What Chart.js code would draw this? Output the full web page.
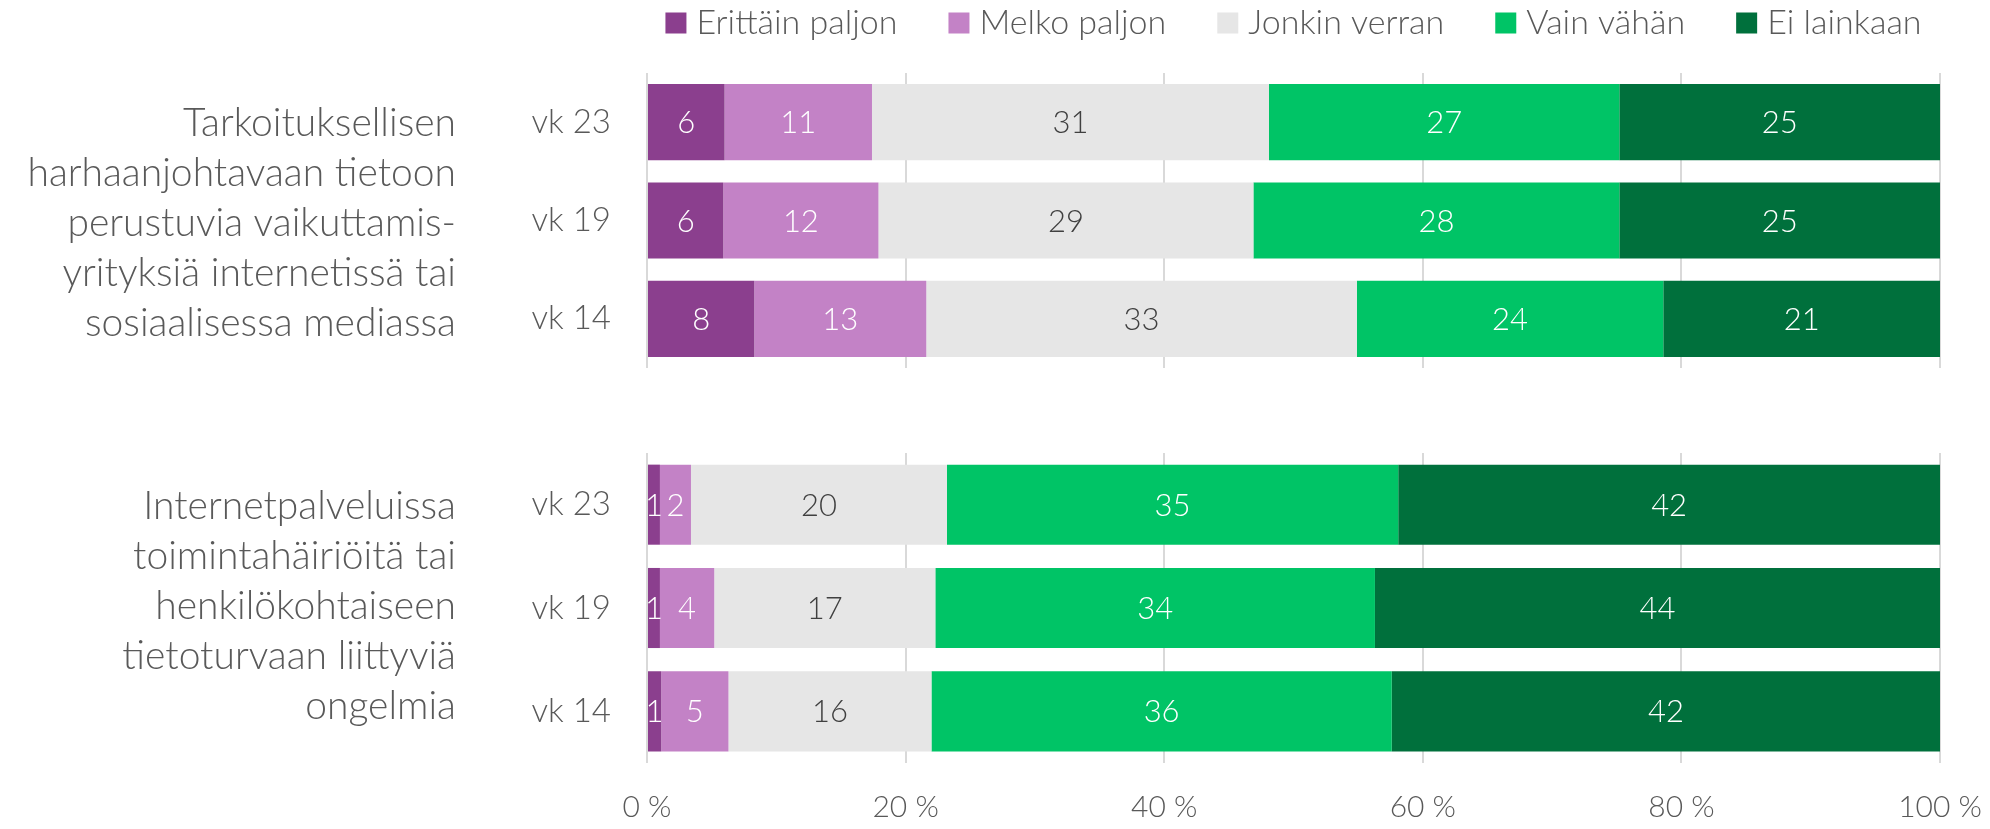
<!DOCTYPE html>
<html lang="fi">
<head>
<meta charset="utf-8">
<title>Huolestuneisuus</title>
<script src="https://cdn.jsdelivr.net/npm/chart.js@4.4.1/dist/chart.umd.min.js"></script>
<style>
  html, body { margin: 0; padding: 0; background: #fff; }
  #wrap { position: relative; width: 1990px; height: 829px; overflow: hidden; }
  canvas { position: absolute; left: 0; }
  #top { top: 0; }
  #bottom { top: 400px; }
</style>
</head>
<body>
<div id="wrap">
  <canvas id="top" width="1990" height="400"></canvas>
  <canvas id="bottom" width="1990" height="429"></canvas>
</div>
<script>
// kategoriat ja sarjat
const weeks = ['vk 23', 'vk 19', 'vk 14'];
const seriesNames = ['Erittäin paljon', 'Melko paljon', 'Jonkin verran', 'Vain vähän', 'Ei lainkaan'];
const seriesColors = ['#8b3f8e', '#c382c6', '#e6e6e6', '#00c466', '#00703c'];

const topLines = ['Tarkoituksellisen', 'harhaanjohtavaan tietoon', 'perustuvia vaikuttamis-',
                  'yrityksiä internetissä tai', 'sosiaalisessa mediassa'];
const bottomLines = ['Internetpalveluissa', 'toimintahäiriöitä tai', 'henkilökohtaiseen',
                     'tietoturvaan liittyviä', 'ongelmia'];

// harhaanjohtava tieto (%), järjestys vk 23, vk 19, vk 14
const harhaErittain = [6.0, 5.9, 8.3];
const harhaMelko    = [11.4, 12.0, 13.3];
const harhaJonkin   = [30.7, 29.0, 33.3];
const harhaVain     = [27.1, 28.3, 23.7];
const harhaEi       = [24.8, 24.8, 21.4];

// toimintahäiriöt / tietoturva (%)
const hairioErittain = [1.0, 1.0, 1.1];
const hairioMelko    = [2.4, 4.2, 5.2];
const hairioJonkin   = [19.8, 17.1, 15.7];
const hairioVain     = [34.9, 34.0, 35.6];
const hairioEi       = [41.9, 43.7, 42.4];

const xTicks = [0, 20, 40, 60, 80, 100];

const FONT = 'Lato';
const TEXT = '#595959';

// arvot palkkien keskelle
const barValues = {
  id: 'barValues',
  afterDatasetsDraw(chart) {
    const ctx = chart.ctx;
    ctx.save();
    ctx.font = `300 31px ${FONT}`;
    ctx.textAlign = 'center';
    ctx.textBaseline = 'middle';
    chart.data.datasets.forEach((ds, i) => {
      const meta = chart.getDatasetMeta(i);
      ctx.fillStyle = i === 2 ? '#404040' : '#ffffff';
      meta.data.forEach((bar, j) => {
        const p = bar.getCenterPoint();
        ctx.fillText(String(Math.round(ds.data[j])), p.x, p.y + 1);
      });
    });
    ctx.restore();
  }
};

// ryhmän otsikko vasemmalle
const groupLabel = {
  id: 'groupLabel',
  afterDraw(chart, args, o) {
    const ctx = chart.ctx;
    const cy = chart.scales.y.getPixelForValue(1) + (o.shift || 0);
    ctx.save();
    ctx.font = `300 39px ${FONT}`;
    ctx.fillStyle = TEXT;
    ctx.textAlign = 'right';
    ctx.textBaseline = 'middle';
    o.lines.forEach((t, i) => {
      ctx.fillText(t, o.x, cy + (i - (o.lines.length - 1) / 2) * o.lineHeight);
    });
    ctx.restore();
  }
};

// selite yhdelle riville
const rowLegend = {
  id: 'rowLegend',
  afterDraw(chart, args, o) {
    if (!o.show) return;
    const ctx = chart.ctx;
    ctx.save();
    ctx.font = `300 34px ${FONT}`;
    const items = chart.data.datasets.map(ds => ({
      text: ds.label, color: ds.backgroundColor, w: ctx.measureText(ds.label).width
    }));
    const total = items.reduce((s, it) => s + o.box + o.gap + it.w, 0) + o.spacing * (items.length - 1);
    let x = (chart.chartArea.left + chart.chartArea.right) / 2 - total / 2;
    ctx.textBaseline = 'middle';
    items.forEach(it => {
      ctx.fillStyle = it.color;
      ctx.fillRect(x, o.y - o.box / 2, o.box, o.box);
      ctx.fillStyle = TEXT;
      ctx.fillText(it.text, x + o.box + o.gap, o.y);
      x += o.box + o.gap + it.w + o.spacing;
    });
    ctx.restore();
  }
};

function makeChart(id, values, lines, cfg) {
  const datasets = seriesNames.map((name, i) => ({
    label: name,
    data: values[i],
    backgroundColor: seriesColors[i],
    borderWidth: 0,
    barPercentage: 1,
    categoryPercentage: 0.775
  }));
  return new Chart(document.getElementById(id), {
    type: 'bar',
    data: { labels: weeks, datasets: datasets },
    options: {
      indexAxis: 'y',
      responsive: false,
      animation: false,
      layout: { padding: { top: cfg.padTop, bottom: cfg.padBottom, left: 0, right: 50 } },
      plugins: {
        legend: { display: false },
        tooltip: { enabled: false },
        groupLabel: { lines: lines, x: 456, lineHeight: 50, shift: cfg.labelShift },
        rowLegend: { show: cfg.legend, y: 23, box: 21, gap: 10, spacing: 51 }
      },
      scales: {
        x: {
          stacked: true,
          min: 0,
          max: 100,
          afterBuildTicks: s => { s.ticks = xTicks.map(v => ({ value: v })); },
          afterFit: s => {
            s.height = cfg.axisHeight;
            s.paddingLeft = 0;
            s.paddingRight = 0;
          },
          grid: { color: '#d9d9d9', lineWidth: 2, drawTicks: false },
          border: { display: false },
          ticks: {
            display: cfg.showTicks,
            padding: 26,
            color: TEXT,
            font: { family: FONT, size: 30, weight: 300 },
            callback: v => v + ' %'
          }
        },
        y: {
          stacked: true,
          afterFit: s => {
            s.width = 647;
            s.paddingTop = 0;
            s.paddingBottom = 0;
          },
          grid: { display: false },
          border: { display: false },
          ticks: {
            padding: 28,
            color: TEXT,
            font: { family: FONT, size: 33, weight: 300 }
          }
        }
      }
    },
    plugins: [barValues, groupLabel, rowLegend]
  });
}

makeChart('top',
  [harhaErittain, harhaMelko, harhaJonkin, harhaVain, harhaEi],
  topLines,
  { padTop: 73, padBottom: 32, axisHeight: 0, showTicks: false, legend: true, labelShift: 3 });

makeChart('bottom',
  [hairioErittain, hairioMelko, hairioJonkin, hairioVain, hairioEi],
  bottomLines,
  { padTop: 53, padBottom: 0, axisHeight: 66, showTicks: true, legend: false, labelShift: -2 });
</script>
</body>
</html>
